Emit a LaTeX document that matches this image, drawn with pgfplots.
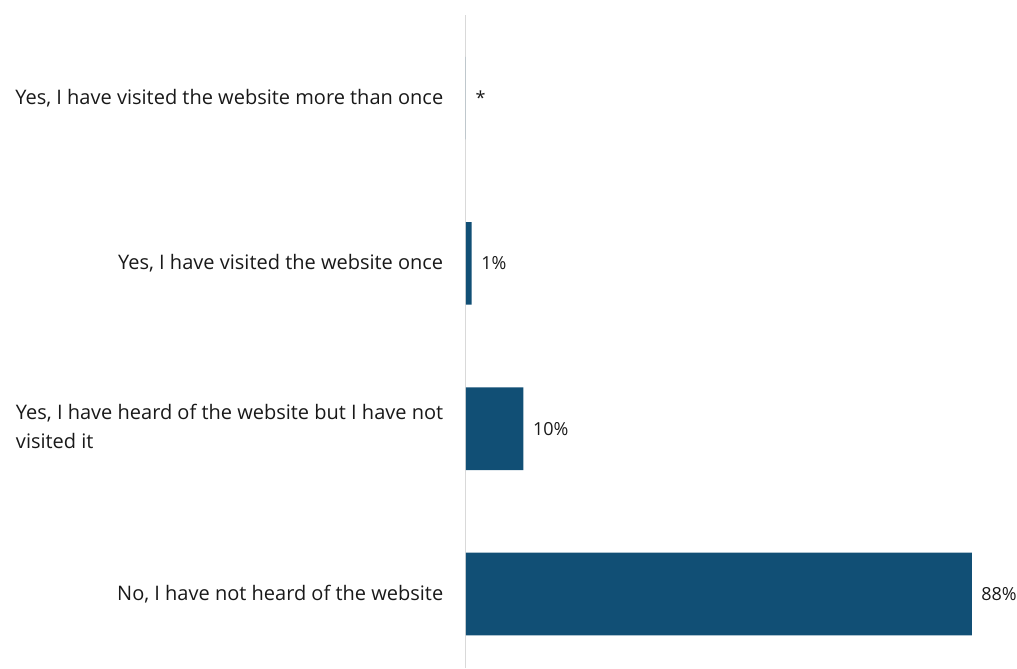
\documentclass[border=0pt]{standalone}
\usepackage{fontspec}
\setmainfont{Open Sans}
\usepackage{pgfplots}
\pgfplotsset{compat=1.18}
\definecolor{barblue}{HTML}{114F75}
\definecolor{axisgray}{HTML}{D9D9D9}
\begin{document}
\begin{tikzpicture}
\useasboundingbox (0,0) rectangle (762.75pt,501pt);
\begin{axis}[
  at={(349.5pt,0pt)}, anchor=south west,
  scale only axis,
  width=409.5pt, height=489.75pt,
  xmin=0, xmax=95,
  ymin=-0.448, ymax=3.503,
  xbar, bar width=0.5,
  axis x line=none,
  axis y line=left,
  y axis line style={draw=axisgray, line width=0.75pt, -},
  ytick={0,1,2,3},
  yticklabels={
    {No, I have not heard of the website},
    {\begin{tabular}{@{}l@{}}Yes, I have heard of the website but I have not\\[1.2pt]visited it\end{tabular}},
    {Yes, I have visited the website once},
    {Yes, I have visited the website more than once}},
  ytick style={draw=none},
  yticklabel style={font=\fontsize{15pt}{20pt}\selectfont, inner sep=0pt, anchor=east, xshift=-14.75pt, text=black!90},
  point meta=explicit symbolic,
  nodes near coords,
  nodes near coords style={font=\fontsize{13.5pt}{16pt}\selectfont, anchor=west, inner sep=0pt, xshift=7pt, text=black!90},
]
\addplot[fill=barblue, draw=none] coordinates {
  (88,0) [88\%]
  (10,1) [10\%]
  (1,2) [1\%]
  (0,3) [*]
};
\end{axis}
\end{tikzpicture}
\end{document}
